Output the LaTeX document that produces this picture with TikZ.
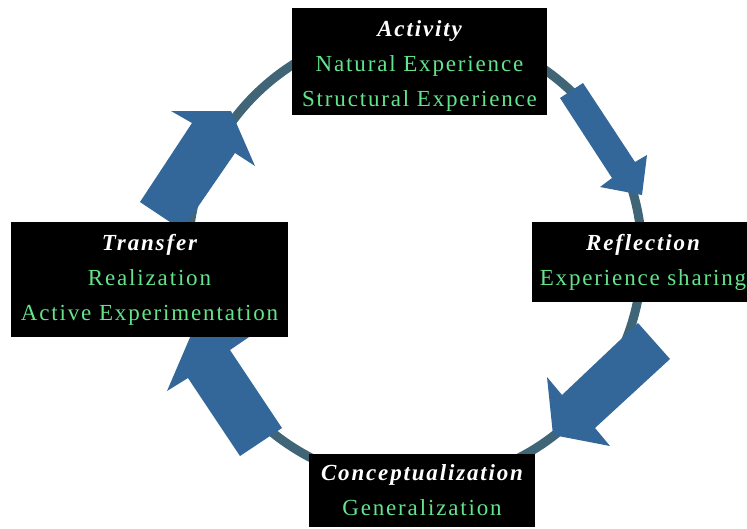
\documentclass[tikz,border=0pt]{standalone}
\usepackage{fontspec}
\setmainfont{Liberation Serif}
\usepackage{tikz}

\definecolor{ringcol}{RGB}{64,101,118}
\definecolor{arrowcol}{RGB}{52,103,153}
\definecolor{stagegreen}{RGB}{99,228,140}

\newcommand\stagetitle[1]{{\color{white}\bfseries\itshape #1}}

\tikzset{
  stagebox/.style={fill=black, text=stagegreen, align=center, inner sep=0pt,
    font={\fontsize{23}{35}\selectfont\addfontfeature{LetterSpace=8}}},
  ring/.style={draw=ringcol, line width=9pt},
  turn/.style={fill=arrowcol}
}

\begin{document}
\begin{tikzpicture}[x=1pt,y=-1pt]
\useasboundingbox (0,0) rectangle (747,528);

% the cycle
\draw[ring] (415,256) circle[radius=227pt];

% block arrows
\fill[turn] (560,98) -- (612,178) -- (600,187) -- (642,195) -- (647,155) -- (635,162) -- (583,83) -- cycle;
\fill[turn] (638,323) -- (562,395) -- (547,377) -- (553,435) -- (610,446) -- (595,428) -- (670,359) -- cycle;
\fill[turn] (240,456) -- (188,378) -- (167,391) -- (191,335) -- (252,335) -- (230,350) -- (282,428) -- cycle;
\fill[turn] (140,202) -- (192,123) -- (171,111) -- (231,111) -- (255,166) -- (235,153) -- (182,230) -- cycle;

% stages
\node[stagebox, minimum width=255pt, minimum height=107pt] (act) at (419.5,61.5)
  {\rule{0pt}{25pt}\stagetitle{Activity}\\Natural Experience\\Structural Experience};
\node[stagebox, minimum width=222pt, minimum height=80pt] (refl) at (643,262)
  {\stagetitle{Reflection}\\Experience sharing};
\node[stagebox, minimum width=226pt, minimum height=73pt] (conc) at (422,490.5)
  {\stagetitle{Conceptualization}\\Generalization};
\node[stagebox, minimum width=277pt, minimum height=115pt] (trans) at (149.5,279.5)
  {\stagetitle{Transfer}\\Realization\\Active Experimentation};
\end{tikzpicture}
\end{document}
